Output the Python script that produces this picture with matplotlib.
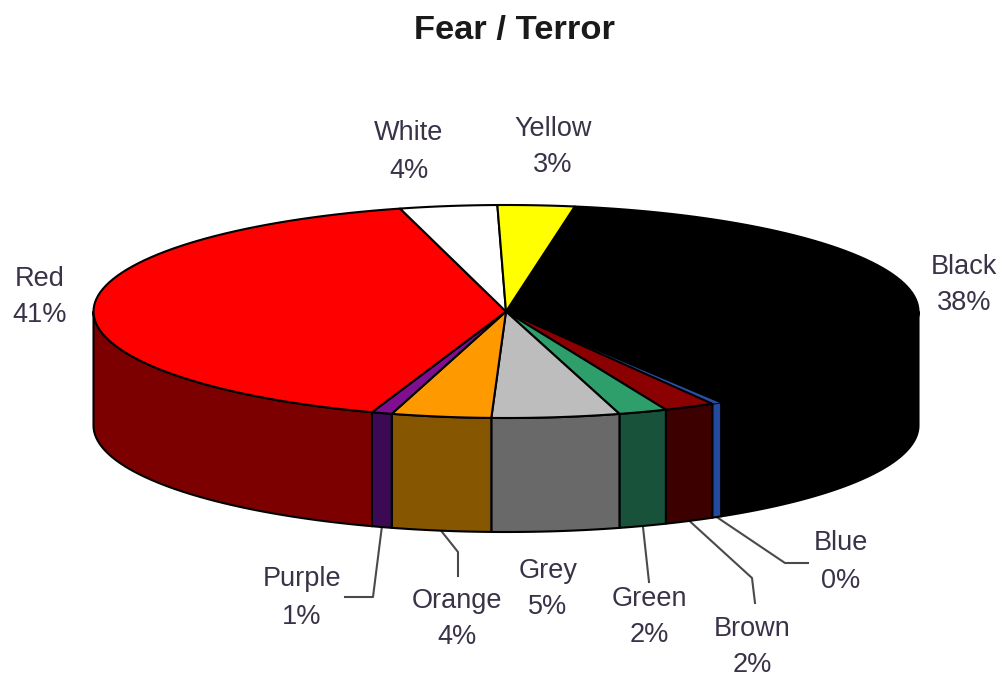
import matplotlib
matplotlib.use("Agg")
import matplotlib.pyplot as plt
import numpy as np

title = "Fear / Terror"
names = ["Black", "Blue", "Brown", "Green", "Grey", "Orange", "Purple", "Red", "White", "Yellow"]
values = [38.6, 0.4, 2.0, 1.9, 5.0, 3.9, 0.8, 40.6, 3.8, 3.0]
pct_labels = ["38%", "0%", "2%", "2%", "5%", "4%", "1%", "41%", "4%", "3%"]

top_colors = ["#000000", "#2a4fa8", "#8b0000", "#2e9e6b", "#bdbdbd", "#ff9900", "#7f0f90", "#ff0000", "#ffffff", "#ffff00"]
side_colors = ["#000000", "#234a9e", "#3d0000", "#18523a", "#696969", "#865600", "#3c0a54", "#7d0000", "#808080", "#808000"]

# layout in pixels of the picture
cx, cy = 506, 311.5
rx, ry = 412.5, 106.5
depth = 114
start_deg = 9.6
text_color = "#3a3348"

label_xy = {
    "Black": (964, 285), "Blue": (841, 562), "Brown": (752, 647), "Green": (649, 617),
    "Grey": (548, 589), "Orange": (457, 619), "Purple": (302, 598), "Red": (40, 297),
    "White": (409, 152), "Yellow": (553, 147),
}
# rest of each leader line after it leaves the pie
leaders = {
    "Blue": [(785, 563), (808, 563)],
    "Brown": [(752, 578), (755, 603)],
    "Green": [(649, 582)],
    "Orange": [(458, 552), (458, 576)],
    "Purple": [(373, 597), (345, 597)],
}


def rim(deg):
    # deg runs clockwise from the top of the pie
    t = np.radians(deg)
    return cx + rx * np.sin(t), cy - ry * np.cos(t)


fig = plt.figure(figsize=(10.05, 6.78), dpi=100)
ax = fig.add_axes([0, 0, 1, 1])
ax.set_xlim(0, 1005)
ax.set_ylim(678, 0)
ax.axis("off")

edges = start_deg + np.cumsum([0] + values) * 3.6

# side wall, only the front half shows
for i in range(len(values)):
    a0 = max(edges[i], 90)
    a1 = min(edges[i + 1], 270)
    if a1 <= a0:
        continue
    d = np.linspace(a0, a1, 60)
    x, y = rim(d)
    ax.fill(np.r_[x, x[::-1]], np.r_[y, y[::-1] + depth], fc=side_colors[i],
            ec="#000000", lw=1.5, joinstyle="round", zorder=2)

# top face, blue goes first so its neighbours' outlines hide the thin tip
blue = names.index("Blue")
for i in [blue] + [k for k in range(len(values)) if k != blue]:
    d = np.linspace(edges[i], edges[i + 1], 80)
    x, y = rim(d)
    ax.fill(np.r_[cx, x], np.r_[cy, y], fc=top_colors[i],
            ec="#000000", lw=1.5 if i != blue else 0, joinstyle="round", zorder=3)

for i, name in enumerate(names):
    ax.text(*label_xy[name], name + "\n" + pct_labels[i], color=text_color,
            family="Liberation Sans", fontsize=19.5, ha="center", va="center",
            linespacing=1.55, zorder=5)
    if name in leaders:
        mid = (edges[i] + edges[i + 1]) / 2
        x0, y0 = rim(mid)
        pts = [(x0, y0 + depth)] + leaders[name]
        ax.plot(*zip(*pts), color="#4a4a4a", lw=1.5, zorder=1)

ax.text(515, 30, title, color="#1a1a1a", family="Liberation Sans", fontweight="bold",
        fontsize=24.8, ha="center", va="center")

fig.savefig("out.png", dpi=100)
